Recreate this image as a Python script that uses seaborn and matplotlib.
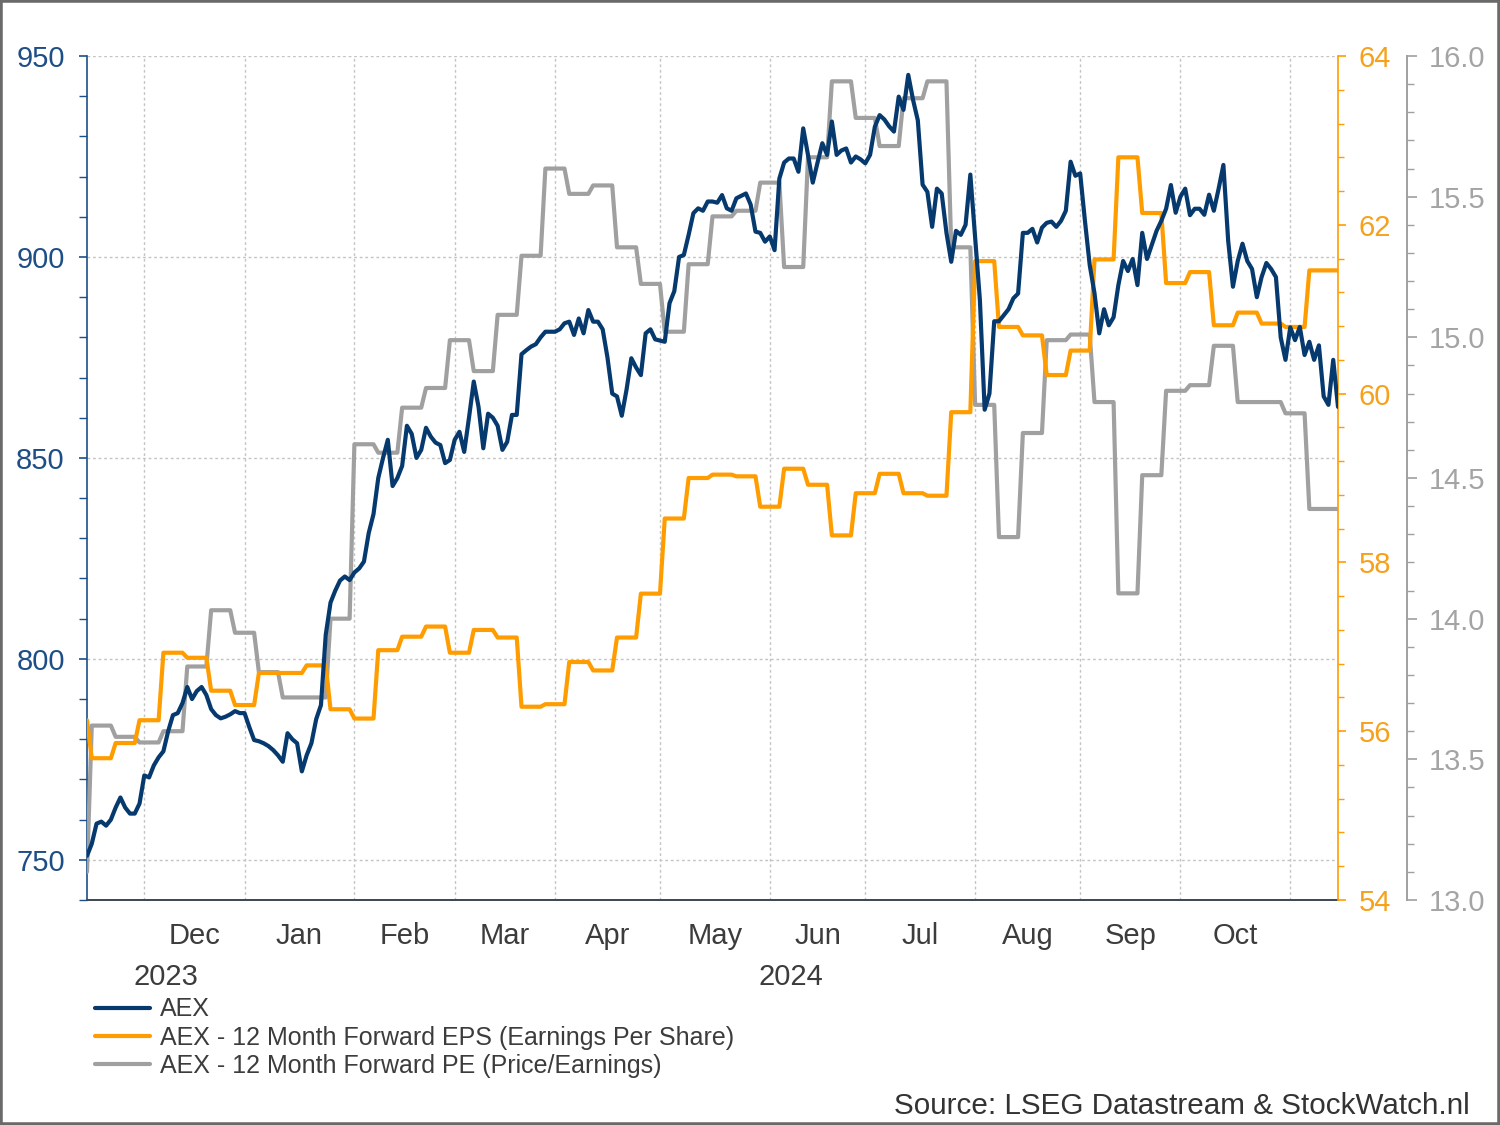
import numpy as np
import pandas as pd
import matplotlib
matplotlib.use('Agg')
import matplotlib.pyplot as plt
from matplotlib.ticker import MultipleLocator, FixedLocator, FormatStrFormatter, NullFormatter
from matplotlib.patches import Rectangle
import matplotlib.transforms as mtransforms
import seaborn as sns

# AEX daily closes, one list per month (weekdays)
aex_nov23 = [751, 754, 759, 759.5, 758.5, 760, 763, 765.5, 763, 761.5, 761.5, 764]
aex_dec23 = [771, 770.5, 773.5, 775.5, 777, 782, 786, 786.5, 789, 793, 790, 792, 793, 791,
             787.5, 786, 785.2, 785.6, 786.2, 787, 786.5]
aex_jan24 = [786.5, 783, 779.8, 779.5, 779, 778.3, 777.3, 776, 774.4, 781.5, 780, 779, 772,
             776, 779, 785, 788.5, 806, 814, 817, 819.5, 820.5, 819.6]
aex_feb24 = [821.5, 822.5, 824.2, 831.3, 836, 845, 850, 854.5, 843, 845, 848, 858, 856, 850,
             852, 857.5, 855.3, 853.8, 853.2, 848.7, 849.5]
aex_mar24 = [854.5, 856.5, 851.5, 860, 869, 862.7, 852.4, 861, 860, 858, 852, 854, 860.7,
             860.7, 875.8, 876.8, 877.7, 878.3, 880, 881.4, 881.4]
aex_apr24 = [881.4, 882, 883.5, 883.9, 880.6, 884.7, 881, 886.8, 883.9, 883.9, 882, 875, 866,
             865.3, 860.5, 867, 874.8, 872.5, 870.6, 881, 882, 879.5]
aex_may24 = [879.2, 878.9, 888.5, 891.5, 900, 900.5, 905.5, 910.9, 912.1, 911.5, 913.8, 913.8,
             913.5, 915.4, 912.1, 911.5, 914.6, 915.2, 915.8, 913, 906.3, 906, 903.8]
aex_jun24 = [905.1, 901.7, 919.5, 923.5, 924.5, 924.5, 921.2, 932, 925.4, 918.5, 923.5, 928.3,
             925.4, 933.7, 925.4, 926.5, 927, 923.5, 925, 924.3]
aex_jul24 = [923.3, 925.4, 932.4, 935.3, 934.2, 932.5, 931.2, 939.9, 936.6, 945.3, 939.1, 934,
             918, 916.2, 907.5, 917, 915.8, 906, 898.8, 906.5, 905.5, 908, 920.5]
aex_aug24 = [905, 889.3, 862, 866, 884, 884, 885.5, 887, 889.7, 890.9, 906, 906, 907, 903.6,
             907.3, 908.5, 908.8, 907.5, 909, 911.5, 923.7, 920.2]
aex_sep24 = [920.8, 909, 898, 891, 881, 887, 883, 885, 893, 899, 896.5, 899.5, 893, 906, 899.5,
             903, 906.5, 909, 912, 917.9, 911]
aex_oct24 = [915, 917, 910.4, 912, 912, 910.5, 915.5, 911.5, 917, 922.9, 904, 892.6, 899, 903.3,
             899, 897, 890, 895, 898.5, 897, 895, 880, 874.4]
aex_nov24 = [882.5, 879.3, 882.6, 875.6, 878.9, 874.4, 878, 865.3, 863.2, 874.4, 862.7]

# weekly forward estimates (first value on 15 Nov, then every Thursday)
eps_weekly = [56.13, 55.68, 55.86, 56.13, 56.93, 56.87, 56.48, 56.31, 56.69, 56.69, 56.78,
              56.26, 56.15, 56.96, 57.12, 57.24, 56.93, 57.2, 57.11, 56.29, 56.32, 56.82,
              56.72, 57.11, 57.63, 58.52, 59.0, 59.04, 59.02, 58.66, 59.11, 58.92, 58.32,
              58.82, 59.05, 58.82, 58.79, 59.78, 61.57, 60.79, 60.69, 60.22, 60.51, 61.59,
              62.8, 62.14, 61.31, 61.44, 60.81, 60.96, 60.83, 60.79, 61.46]
pe_weekly = [13.1, 13.62, 13.58, 13.56, 13.6, 13.83, 14.03, 13.95, 13.81, 13.72, 13.72, 14.0,
             14.62, 14.59, 14.75, 14.82, 14.99, 14.88, 15.08, 15.29, 15.6, 15.51, 15.54, 15.32,
             15.19, 15.02, 15.26, 15.43, 15.45, 15.55, 15.25, 15.64, 15.91, 15.78, 15.68,
             15.85, 15.91, 15.32, 14.76, 14.29, 14.66, 14.99, 15.01, 14.77, 14.09, 14.51,
             14.81, 14.83, 14.97, 14.77, 14.77, 14.73, 14.39]

month_labels = ['Dec', 'Jan', 'Feb', 'Mar', 'Apr', 'May', 'Jun', 'Jul', 'Aug', 'Sep', 'Oct']
year_labels = ['2023', '2024']
series_names = ['AEX', 'AEX - 12 Month Forward EPS (Earnings Per Share)',
                'AEX - 12 Month Forward PE (Price/Earnings)']
source_text = 'Source: LSEG Datastream & StockWatch.nl'

NAVY = '#063a6e'
ORANGE = '#ff9c00'
GREY = '#a0a0a0'

# build the daily frame on a trading-day axis
days = pd.bdate_range('2023-11-15', '2024-11-15')
aex = np.concatenate([aex_nov23, aex_dec23, aex_jan24, aex_feb24, aex_mar24, aex_apr24,
                      aex_may24, aex_jun24, aex_jul24, aex_aug24, aex_sep24, aex_oct24, aex_nov24])
weeks = pd.DatetimeIndex(['2023-11-15']).append(pd.date_range('2023-11-16', periods=52, freq='7D'))
eps = pd.Series(eps_weekly, index=weeks).reindex(days, method='ffill')
pe = pd.Series(pe_weekly, index=weeks).reindex(days, method='ffill')
df = pd.DataFrame({'day': np.arange(len(days)), 'aex': aex,
                   'eps': eps.values, 'pe': pe.values})

sns.set_style('white')
plt.rcParams['font.family'] = ['Liberation Sans', 'DejaVu Sans']

fig = plt.figure(figsize=(15, 11.25), dpi=100)
ax = fig.add_axes([0.058, 0.2, 0.834, 0.7502])
ax_pe = ax.twinx()
ax_eps = ax.twinx()
ax_top = ax.twinx()   # AEX drawn on top of the other two lines

sns.lineplot(data=df, x='day', y='pe', ax=ax_pe, color=GREY, lw=3.0, label=series_names[2], legend=False)
sns.lineplot(data=df, x='day', y='eps', ax=ax_eps, color=ORANGE, lw=3.0, label=series_names[1], legend=False)
sns.lineplot(data=df, x='day', y='aex', ax=ax_top, color=NAVY, lw=3.0, label=series_names[0], legend=False)

# month ticks at first trading day of each month, labels mid-month
starts = np.flatnonzero(days.month != np.roll(days.month, 1))
mids = (starts[:-1] + starts[1:]) / 2
xmax = len(days) - 1
for a in (ax, ax_pe, ax_eps, ax_top):
    a.set_xlim(0, xmax)
    a.set_xlabel('')
    a.set_ylabel('')

ax.xaxis.set_major_locator(FixedLocator(starts))
ax.xaxis.set_major_formatter(NullFormatter())
ax.xaxis.set_minor_locator(FixedLocator(mids))
ax.set_xticklabels(month_labels, minor=True)
ax.tick_params(axis='x', which='major', length=9, width=1.2, color='#4a4a4a', direction='out')
ax.tick_params(axis='x', which='minor', length=0, pad=16, labelsize=21, labelcolor='#3c3c3c')

year_tf = mtransforms.blended_transform_factory(ax.transData, ax.transAxes)
jan = starts[1]
ax.text(jan / 2, -0.091, year_labels[0], transform=year_tf, ha='center', va='center',
        fontsize=21, color='#3c3c3c')
ax.text((jan + xmax) / 2, -0.091, year_labels[1], transform=year_tf, ha='center', va='center',
        fontsize=21, color='#3c3c3c')

# left axis (AEX)
ax.set_ylim(740, 950)
ax_top.set_ylim(740, 950)
ax.yaxis.set_major_locator(MultipleLocator(50))
ax.yaxis.set_minor_locator(MultipleLocator(10))
ax.tick_params(axis='y', which='both', left=True, direction='out', color='#1d4f86',
               labelcolor='#1d4f86', labelsize=21, pad=10)
ax.tick_params(axis='y', which='major', length=6, width=1.2)
ax.tick_params(axis='y', which='minor', length=6, width=1)
ax.grid(True, which='major', axis='both', ls=(0, (2, 2)), color='#c4c4c4', lw=1)

# orange EPS axis
ax_eps.set_ylim(54, 64)
ax_eps.yaxis.set_major_locator(MultipleLocator(2))
ax_eps.yaxis.set_minor_locator(MultipleLocator(0.4))
ax_eps.tick_params(axis='y', which='both', right=True, direction='out', color=ORANGE,
                   labelcolor='#f7a11a', labelsize=21, pad=9)
ax_eps.tick_params(axis='y', which='major', length=6, width=1.2)
ax_eps.tick_params(axis='y', which='minor', length=4, width=1)

# grey PE axis
ax_pe.set_ylim(13, 16)
ax_pe.spines['right'].set_position(('axes', 1.055))
ax_pe.yaxis.set_major_locator(MultipleLocator(0.5))
ax_pe.yaxis.set_minor_locator(MultipleLocator(0.1))
ax_pe.yaxis.set_major_formatter(FormatStrFormatter('%.1f'))
ax_pe.tick_params(axis='y', which='both', right=True, direction='out', color=GREY,
                  labelcolor='#a4a4a4', labelsize=21, pad=9)
ax_pe.tick_params(axis='y', which='major', length=7, width=1.2)
ax_pe.tick_params(axis='y', which='minor', length=5, width=1)

ax_top.set_yticks([])
ax_top.tick_params(axis='both', which='both', length=0)

# spines
for s in ('top', 'right'):
    ax.spines[s].set_visible(False)
ax.spines['left'].set_color('#1d4f86')
ax.spines['left'].set_linewidth(1.2)
ax.spines['bottom'].set_color('#3c4654')
ax.spines['bottom'].set_linewidth(1.4)
for a in (ax_eps, ax_pe, ax_top):
    for s in ('top', 'left', 'bottom'):
        a.spines[s].set_visible(False)
    a.patch.set_visible(False)
ax_top.spines['right'].set_visible(False)
ax_eps.spines['right'].set_color(ORANGE)
ax_eps.spines['right'].set_linewidth(1.2)
ax_pe.spines['right'].set_color(GREY)
ax_pe.spines['right'].set_linewidth(1.4)

# legend under the chart
handles = [ax_top.get_lines()[0], ax_eps.get_lines()[0], ax_pe.get_lines()[0]]
fig.legend(handles, series_names, loc='upper left', bbox_to_anchor=(0.0633, 0.1135),
           frameon=False, fontsize=18, borderpad=0, borderaxespad=0, handlelength=2.2,
           handletextpad=0.4, labelspacing=0.17, labelcolor='#3c3c3c')

fig.text(0.98, 0.0165, source_text, ha='right', va='center', fontsize=21.3, color='#333333')
fig.patches.append(Rectangle((0, 0), 1, 1, transform=fig.transFigure, fill=False,
                             ec='#6a6a6a', lw=4))

fig.savefig('out.png', dpi=100)
